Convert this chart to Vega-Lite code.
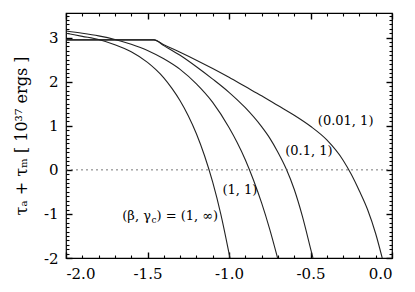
{
  "$schema": "https://vega.github.io/schema/vega-lite/v6.json",
  "width": 326,
  "height": 245,
  "autosize": {"type": "none"},
  "padding": {"left": 66, "top": 13, "right": 23, "bottom": 34},
  "background": "white",
  "view": {"stroke": "black", "strokeWidth": 1.2},
  "datasets": {
    "curves": [
      {"s": "a", "x": -2.0, "y": 3.10}, {"s": "a", "x": -1.9, "y": 3.03}, {"s": "a", "x": -1.8, "y": 2.96}, {"s": "a", "x": -1.7, "y": 2.84}, {"s": "a", "x": -1.6, "y": 2.68}, {"s": "a", "x": -1.5, "y": 2.44}, {"s": "a", "x": -1.45, "y": 2.28}, {"s": "a", "x": -1.4, "y": 2.09}, {"s": "a", "x": -1.35, "y": 1.85}, {"s": "a", "x": -1.3, "y": 1.57}, {"s": "a", "x": -1.25, "y": 1.23}, {"s": "a", "x": -1.2, "y": 0.82}, {"s": "a", "x": -1.15, "y": 0.32}, {"s": "a", "x": -1.1, "y": -0.28}, {"s": "a", "x": -1.05, "y": -1.01}, {"s": "a", "x": -1.0, "y": -1.89}, {"s": "a", "x": -0.994, "y": -2.0},
      {"s": "b", "x": -2.0, "y": 3.15}, {"s": "b", "x": -1.9, "y": 3.10}, {"s": "b", "x": -1.8, "y": 3.04}, {"s": "b", "x": -1.7, "y": 2.96}, {"s": "b", "x": -1.6, "y": 2.85}, {"s": "b", "x": -1.5, "y": 2.71}, {"s": "b", "x": -1.4, "y": 2.52}, {"s": "b", "x": -1.3, "y": 2.28}, {"s": "b", "x": -1.2, "y": 1.95}, {"s": "b", "x": -1.1, "y": 1.53}, {"s": "b", "x": -1.0, "y": 0.96}, {"s": "b", "x": -0.95, "y": 0.62}, {"s": "b", "x": -0.9, "y": 0.23}, {"s": "b", "x": -0.85, "y": -0.23}, {"s": "b", "x": -0.8, "y": -0.75}, {"s": "b", "x": -0.75, "y": -1.35}, {"s": "b", "x": -0.702, "y": -2.0},
      {"s": "c", "x": -2.0, "y": 2.95}, {"s": "c", "x": -1.46, "y": 2.95}, {"s": "c", "x": -1.4, "y": 2.82}, {"s": "c", "x": -1.3, "y": 2.60}, {"s": "c", "x": -1.2, "y": 2.34}, {"s": "c", "x": -1.1, "y": 2.06}, {"s": "c", "x": -1.0, "y": 1.76}, {"s": "c", "x": -0.9, "y": 1.41}, {"s": "c", "x": -0.8, "y": 0.98}, {"s": "c", "x": -0.75, "y": 0.72}, {"s": "c", "x": -0.7, "y": 0.40}, {"s": "c", "x": -0.65, "y": 0.03}, {"s": "c", "x": -0.6, "y": -0.44}, {"s": "c", "x": -0.55, "y": -1.05}, {"s": "c", "x": -0.5, "y": -1.78}, {"s": "c", "x": -0.485, "y": -2.0},
      {"s": "d", "x": -2.0, "y": 2.95}, {"s": "d", "x": -1.46, "y": 2.95}, {"s": "d", "x": -1.4, "y": 2.84}, {"s": "d", "x": -1.3, "y": 2.67}, {"s": "d", "x": -1.2, "y": 2.49}, {"s": "d", "x": -1.1, "y": 2.30}, {"s": "d", "x": -1.0, "y": 2.10}, {"s": "d", "x": -0.9, "y": 1.89}, {"s": "d", "x": -0.8, "y": 1.68}, {"s": "d", "x": -0.7, "y": 1.46}, {"s": "d", "x": -0.6, "y": 1.24}, {"s": "d", "x": -0.5, "y": 0.99}, {"s": "d", "x": -0.4, "y": 0.68}, {"s": "d", "x": -0.3, "y": 0.22}, {"s": "d", "x": -0.25, "y": -0.10}, {"s": "d", "x": -0.2, "y": -0.48}, {"s": "d", "x": -0.15, "y": -0.90}, {"s": "d", "x": -0.1, "y": -1.45}, {"s": "d", "x": -0.06, "y": -2.0}
    ],
    "zero": [{"x0": -2.0, "x1": 0.0, "y": 0}],
    "labels": [
      {"label": "(0.01, 1)", "x": -0.455, "y": 1.10},
      {"label": "(0.1, 1)", "x": -0.655, "y": 0.42},
      {"label": "(1, 1)", "x": -1.04, "y": -0.45}
    ],
    "beta": [{"x": -1.479, "y": -1.04, "p1": "(β, γ", "p2": "c", "p3": ") = (1, ∞)"}]
  },
  "resolve": {"axis": {"x": "independent", "y": "independent"}},
  "layer": [
    {
      "data": {"name": "curves"},
      "mark": {"type": "line", "color": "#222222", "strokeWidth": 1.1, "clip": true, "interpolate": "monotone"},
      "encoding": {
        "x": {"field": "x", "type": "quantitative", "scale": {"domain": [-2, 0], "nice": false, "zero": false},
          "axis": {"orient": "bottom", "values": [-2, -1.5, -1, -0.5, 0], "offset": -6, "tickSize": 6, "tickWidth": 1.4, "tickColor": "black", "domainOpacity": 0, "gridOpacity": 0, "labelPadding": 8, "labelFont": "DejaVu Serif", "labelFontSize": 15, "labelColor": "black", "title": null,
            "labelExpr": "datum.value < 0 ? '-' + format(-datum.value, '.1f') : format(datum.value, '.1f')"}},
        "y": {"field": "y", "type": "quantitative", "scale": {"domain": [-2, 3.56], "nice": false, "zero": false},
          "axis": {"orient": "left", "values": [-2, -1, 0, 1, 2, 3], "offset": -6, "tickSize": 6, "tickWidth": 1.4, "tickColor": "black", "domainOpacity": 0, "gridOpacity": 0, "labelPadding": 8, "labelFont": "DejaVu Serif", "labelFontSize": 15, "labelColor": "black",
            "labelExpr": "datum.value < 0 ? '-' + format(-datum.value, 'd') : format(datum.value, 'd')",
            "title": "τₐ + τₘ   [ 10³⁷ ergs ]", "titleFont": "DejaVu Serif", "titleFontWeight": "normal", "titleColor": "black", "titleFontSize": 16, "titlePadding": 14}},
        "detail": {"field": "s"}
      }
    },
    {
      "data": {"name": "zero"},
      "mark": {"type": "rule", "color": "#555555", "strokeWidth": 0.8, "strokeDash": [2, 3]},
      "encoding": {
        "x": {"field": "x0", "type": "quantitative", "axis": {"orient": "bottom", "values": [-1.9, -1.8, -1.7, -1.6, -1.4, -1.3, -1.2, -1.1, -0.9, -0.8, -0.7, -0.6, -0.4, -0.3, -0.2, -0.1], "offset": -3, "tickSize": 3, "tickWidth": 1.1, "tickColor": "black", "domainOpacity": 0, "gridOpacity": 0, "labels": false, "title": null}},
        "x2": {"field": "x1"},
        "y": {"field": "y", "type": "quantitative", "axis": {"orient": "left", "values": [-1.9, -1.8, -1.7, -1.6, -1.5, -1.4, -1.3, -1.2, -1.1, -0.9, -0.8, -0.7, -0.6, -0.5, -0.4, -0.3, -0.2, -0.1, 0.1, 0.2, 0.3, 0.4, 0.5, 0.6, 0.7, 0.8, 0.9, 1.1, 1.2, 1.3, 1.4, 1.5, 1.6, 1.7, 1.8, 1.9, 2.1, 2.2, 2.3, 2.4, 2.5, 2.6, 2.7, 2.8, 2.9, 3.1, 3.2, 3.3, 3.4, 3.5], "offset": -3, "tickSize": 3, "tickWidth": 1.1, "tickColor": "black", "domainOpacity": 0, "gridOpacity": 0, "labels": false, "title": null}}
      }
    },
    {
      "data": {"name": "labels"},
      "mark": {"type": "text", "align": "left", "baseline": "middle", "font": "DejaVu Serif", "fontSize": 13, "color": "black"},
      "encoding": {
        "x": {"field": "x", "type": "quantitative", "axis": {"orient": "top", "values": [-2, -1.5, -1, -0.5, 0], "offset": -6, "tickSize": 6, "tickWidth": 1.4, "tickColor": "black", "domainOpacity": 0, "gridOpacity": 0, "labels": false, "title": null}},
        "y": {"field": "y", "type": "quantitative", "axis": {"orient": "right", "values": [-2, -1, 0, 1, 2, 3], "offset": -6, "tickSize": 6, "tickWidth": 1.4, "tickColor": "black", "domainOpacity": 0, "gridOpacity": 0, "labels": false, "title": null}},
        "text": {"field": "label"}
      }
    },
    {
      "data": {"name": "beta"},
      "mark": {"type": "text", "align": "right", "baseline": "middle", "font": "DejaVu Serif", "fontSize": 13, "color": "black"},
      "encoding": {
        "x": {"field": "x", "type": "quantitative", "axis": {"orient": "top", "values": [-1.9, -1.8, -1.7, -1.6, -1.4, -1.3, -1.2, -1.1, -0.9, -0.8, -0.7, -0.6, -0.4, -0.3, -0.2, -0.1], "offset": -3, "tickSize": 3, "tickWidth": 1.1, "tickColor": "black", "domainOpacity": 0, "gridOpacity": 0, "labels": false, "title": null}},
        "y": {"field": "y", "type": "quantitative", "axis": {"orient": "right", "values": [-1.9, -1.8, -1.7, -1.6, -1.5, -1.4, -1.3, -1.2, -1.1, -0.9, -0.8, -0.7, -0.6, -0.5, -0.4, -0.3, -0.2, -0.1, 0.1, 0.2, 0.3, 0.4, 0.5, 0.6, 0.7, 0.8, 0.9, 1.1, 1.2, 1.3, 1.4, 1.5, 1.6, 1.7, 1.8, 1.9, 2.1, 2.2, 2.3, 2.4, 2.5, 2.6, 2.7, 2.8, 2.9, 3.1, 3.2, 3.3, 3.4, 3.5], "offset": -3, "tickSize": 3, "tickWidth": 1.1, "tickColor": "black", "domainOpacity": 0, "gridOpacity": 0, "labels": false, "title": null}},
        "text": {"field": "p1"}
      }
    },
    {
      "data": {"name": "beta"},
      "mark": {"type": "text", "align": "left", "baseline": "middle", "font": "DejaVu Serif", "fontSize": 9, "dy": 4, "dx": 0.5, "color": "black"},
      "encoding": {
        "x": {"field": "x", "type": "quantitative", "axis": null},
        "y": {"field": "y", "type": "quantitative", "axis": null},
        "text": {"field": "p2"}
      }
    },
    {
      "data": {"name": "beta"},
      "mark": {"type": "text", "align": "left", "baseline": "middle", "font": "DejaVu Serif", "fontSize": 13, "dx": 5.5, "color": "black"},
      "encoding": {
        "x": {"field": "x", "type": "quantitative", "axis": null},
        "y": {"field": "y", "type": "quantitative", "axis": null},
        "text": {"field": "p3"}
      }
    }
  ]
}
